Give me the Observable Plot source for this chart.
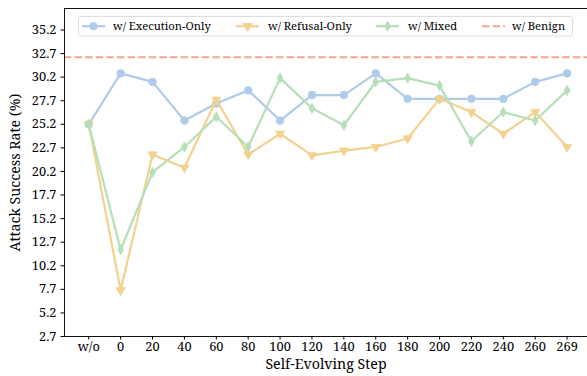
<!DOCTYPE html>
<html>
<head>
<meta charset="utf-8">
<script src="https://cdn.jsdelivr.net/npm/d3@7"></script>
<script src="https://cdn.jsdelivr.net/npm/@observablehq/plot@0.6"></script>
<style>
  html, body { margin: 0; padding: 0; background: #fff; }
  #chart { position: relative; width: 587px; height: 376px; }
  #chart svg, #chart svg text { font-family: "Noto Serif", "Liberation Serif", serif !important; }
</style>
</head>
<body>
<div id="chart"></div>
<script>
// Self-evolving steps (x categories)
const steps = ["w/o", "0", "20", "40", "60", "80", "100", "120", "140", "160", "180", "200", "220", "240", "260", "269"];

// Attack success rate (%) per step
const execOnly    = [25.2, 30.6, 29.7, 25.6, 27.4, 28.8, 25.6, 28.3, 28.3, 30.6, 27.9, 27.9, 27.9, 27.9, 29.7, 30.6];
const refusalOnly = [25.2, 7.6, 22.0, 20.6, 27.8, 22.0, 24.2, 21.9, 22.4, 22.8, 23.7, 27.9, 26.5, 24.2, 26.5, 22.8];
const mixed       = [25.2, 11.9, 20.1, 22.8, 26.0, 22.8, 30.1, 26.9, 25.1, 29.7, 30.1, 29.3, 23.4, 26.5, 25.6, 28.8];
const benign = 32.3;

// Y tick labels
const yTicks = [2.7, 5.2, 7.7, 10.2, 12.7, 15.2, 17.7, 20.2, 22.7, 25.2, 27.7, 30.2, 32.7, 35.2];
const yDomain = [2.7, 37.48];
const xDomain = [-0.76, 15.64];

const series = [
  {name: "w/ Execution-Only", values: execOnly,    color: "#aecbea", symbol: "circle",   r: 3.8, rotate: 0},
  {name: "w/ Refusal-Only",   values: refusalOnly, color: "#f3d18f", symbol: "triangle", r: 3.4, rotate: 180},
  {name: "w/ Mixed",          values: mixed,       color: "#b5e0b7", symbol: "diamond",  r: 3.1, rotate: 0}
];
const benignColor = "#f6a291";

const font = "'Noto Serif', 'Liberation Serif', serif";

const marks = [];
for (const s of series) {
  const rows = s.values.map((v, i) => ({i, v}));
  marks.push(Plot.line(rows, {x: "i", y: "v", stroke: s.color, strokeWidth: 2.2}));
  marks.push(Plot.dot(rows, {x: "i", y: "v", fill: s.color, stroke: s.color, strokeWidth: 0.8,
    symbol: () => s.symbol, r: s.r, rotate: s.rotate}));
}
marks.push(Plot.ruleY([benign], {stroke: benignColor, strokeWidth: 2, strokeDasharray: "7.4,3.2"}));

// spines: left, bottom, top
marks.push(Plot.ruleX([xDomain[0]], {stroke: "#111", strokeWidth: 1}));
marks.push(Plot.ruleY([yDomain[0]], {stroke: "#111", strokeWidth: 1}));
marks.push(Plot.ruleY([yDomain[1]], {stroke: "#111", strokeWidth: 1}));

marks.push(Plot.axisY({ticks: yTicks, tickFormat: d => d.toFixed(1), tickSize: 3.5, tickPadding: 4.5, fontSize: 12.8, label: null}));
marks.push(Plot.axisX({ticks: d3.range(steps.length), tickFormat: i => steps[i], tickSize: 3.5, tickPadding: 2, fontSize: 12.8, label: null}));

marks.push(Plot.text(["Attack Success Rate (%)"], {frameAnchor: "left", text: d => d, rotate: -90, dx: -49,
  textAnchor: "middle", lineAnchor: "middle", fontSize: 14.2, fill: "#000"}));
marks.push(Plot.text(["Self-Evolving Step"], {frameAnchor: "bottom", text: d => d, dy: 28,
  textAnchor: "middle", lineAnchor: "middle", fontSize: 14.2, fill: "#000"}));

const chart = Plot.plot({
  width: 587,
  height: 376,
  marginLeft: 64,
  marginRight: 0,
  marginTop: 8,
  marginBottom: 40,
  style: {fontFamily: font, color: "#000", background: "#fff", overflow: "visible"},
  x: {type: "linear", domain: xDomain},
  y: {type: "linear", domain: yDomain},
  marks
});

document.getElementById("chart").appendChild(chart);

// Legend inside the plot area, on top
const svg = d3.select(chart);
const lg = svg.append("g").attr("font-size", 11.2).attr("text-anchor", "start");
lg.append("rect")
  .attr("x", 78.5).attr("y", 16.5).attr("width", 494).attr("height", 19.5)
  .attr("rx", 2.5).attr("fill", "#fff").attr("fill-opacity", 0.85)
  .attr("stroke", "#d6d6d6").attr("stroke-width", 0.8);

const items = [
  {s: series[0], x: 82, tx: 113},
  {s: series[1], x: 236, tx: 268},
  {s: series[2], x: 376, tx: 408},
  {s: null, x: 482, tx: 512, name: "w/ Benign"}
];
const cy = 26.2;
for (const it of items) {
  if (it.s) {
    lg.append("line").attr("x1", it.x).attr("x2", it.x + 23).attr("y1", cy).attr("y2", cy)
      .attr("stroke", it.s.color).attr("stroke-width", 2.2);
    const sym = {circle: d3.symbolCircle, triangle: d3.symbolTriangle, diamond: d3.symbolDiamond}[it.s.symbol];
    lg.append("path")
      .attr("d", d3.symbol(sym, it.s.r * it.s.r * Math.PI)())
      .attr("transform", `translate(${it.x + 11.5},${cy}) rotate(${it.s.rotate})`)
      .attr("fill", it.s.color).attr("stroke", it.s.color).attr("stroke-width", 0.8);
  } else {
    lg.append("line").attr("x1", it.x).attr("x2", it.x + 23).attr("y1", cy).attr("y2", cy)
      .attr("stroke", benignColor).attr("stroke-width", 2).attr("stroke-dasharray", "7.4,3.2");
  }
  lg.append("text").attr("x", it.tx).attr("y", cy).attr("dy", "0.35em")
    .attr("fill", "#000").text(it.s ? it.s.name : it.name);
}
</script>
</body>
</html>
